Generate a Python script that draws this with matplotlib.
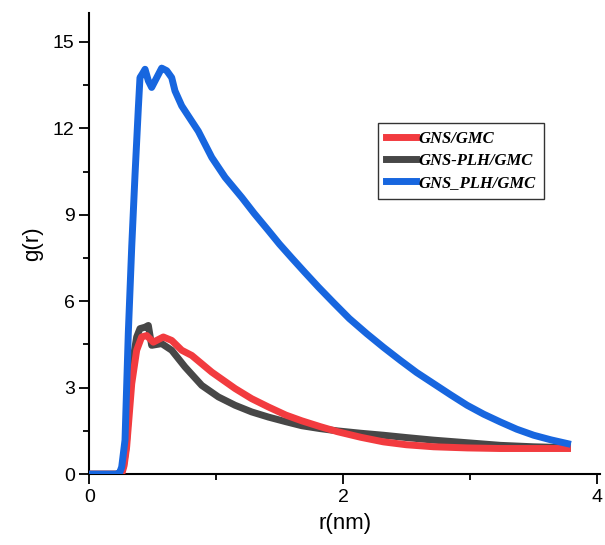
import numpy as np
import matplotlib.pyplot as plt
from matplotlib.ticker import MultipleLocator

plt.rc('font', family='Liberation Sans', size=14)

#===================
# Data
#===================
r_blue = [0.0, 0.216, 0.240, 0.256, 0.282, 0.308, 0.335, 0.361, 0.387, 0.40, 0.42,
          0.44, 0.466, 0.492, 0.532, 0.571, 0.611, 0.65, 0.676, 0.729, 0.781,
          0.86, 0.966, 1.071, 1.203, 1.30, 1.413, 1.50, 1.597, 1.70, 1.807,
          1.926, 2.05, 2.189, 2.32, 2.452, 2.58, 2.715, 2.85, 2.979, 3.11,
          3.241, 3.37, 3.504, 3.64, 3.77]
g_blue = [0.0, 0.0, 0.05, 0.25, 1.18, 4.9, 7.9, 10.4, 12.7, 13.76, 13.9,
          14.05, 13.65, 13.42, 13.76, 14.09, 14.0, 13.76, 13.3, 12.78, 12.43,
          11.9, 10.99, 10.3, 9.6, 9.05, 8.45, 7.98, 7.5, 7.0, 6.49,
          5.95, 5.4, 4.87, 4.4, 3.95, 3.53, 3.14, 2.75, 2.39, 2.08,
          1.81, 1.56, 1.35, 1.19, 1.06]

r_red = [0.0, 0.256, 0.275, 0.295, 0.335, 0.374, 0.413, 0.453, 0.505, 0.584, 0.65,
         0.729, 0.808, 0.966, 1.15, 1.28, 1.413, 1.55, 1.676, 1.82, 1.96, 2.14,
         2.32, 2.5, 2.715, 2.98, 3.24, 3.5, 3.77]
g_red = [0.0, 0.0, 0.3, 0.95, 3.14, 4.3, 4.76, 4.81, 4.58, 4.76, 4.64,
         4.3, 4.12, 3.54, 2.97, 2.62, 2.33, 2.05, 1.85, 1.65, 1.47, 1.28,
         1.12, 1.02, 0.95, 0.91, 0.89, 0.89, 0.89]

r_gray = [0.0, 0.25, 0.27, 0.29, 0.335, 0.374, 0.40, 0.44, 0.466, 0.492, 0.571,
          0.65, 0.755, 0.887, 1.018, 1.15, 1.28, 1.413, 1.55, 1.676, 1.82, 1.96,
          2.14, 2.32, 2.5, 2.715, 2.98, 3.24, 3.5, 3.77]
g_gray = [0.0, 0.0, 0.3, 0.9, 3.72, 4.76, 5.05, 5.1, 5.16, 4.47, 4.53,
          4.3, 3.72, 3.08, 2.68, 2.39, 2.16, 1.98, 1.82, 1.68, 1.58, 1.5,
          1.42, 1.35, 1.27, 1.18, 1.09, 1.0, 0.95, 0.92]

labels = ['GNS/GMC', 'GNS-PLH/GMC', 'GNS_PLH/GMC']

#===================
# Plot
#===================
fig = plt.figure(figsize=(6.05, 5.45), dpi=100)
ax = fig.add_axes([0.1475, 0.130, 0.845, 0.846])

ax.plot(r_red, g_red, color='#f23b3f', lw=5, label=labels[0], zorder=3)
ax.plot(r_gray, g_gray, color='#474747', lw=5, label=labels[1], zorder=2)
ax.plot(r_blue, g_blue, color='#1766df', lw=5, label=labels[2], zorder=4)

ax.set_xlim(0, 4.03)
ax.set_ylim(0, 16)
ax.xaxis.set_major_locator(MultipleLocator(2))
ax.xaxis.set_minor_locator(MultipleLocator(1))
ax.yaxis.set_major_locator(MultipleLocator(3))
ax.yaxis.set_minor_locator(MultipleLocator(1.5))
ax.tick_params(which='major', direction='out', length=7, width=1.3, labelsize=14)
ax.tick_params(which='minor', direction='out', length=4, width=1.3)

for s in ['top', 'right']:
    ax.spines[s].set_visible(False)
for s in ['left', 'bottom']:
    ax.spines[s].set_linewidth(1.5)

ax.set_xlabel('r(nm)', fontsize=16, labelpad=5)
ax.set_ylabel('g(r)', fontsize=16, labelpad=7)

leg = ax.legend(loc='upper left', bbox_to_anchor=(0.555, 0.773), frameon=True,
                fancybox=False, edgecolor='black', handlelength=1.8,
                handletextpad=0.1, borderpad=0.5, borderaxespad=0.3,
                labelspacing=0.35,
                prop={'family': 'Liberation Serif', 'style': 'italic',
                      'weight': 'bold', 'size': 12})
leg.get_frame().set_linewidth(1.0)

plt.savefig('out.png', dpi=100)
